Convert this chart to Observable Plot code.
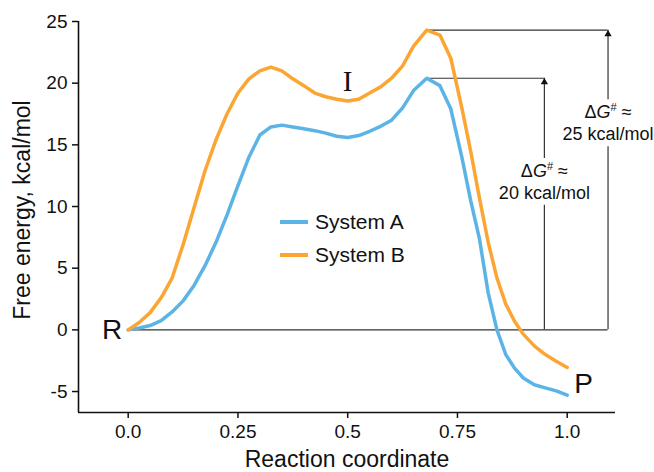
<!DOCTYPE html>
<html><head><meta charset="utf-8">
<script src="https://cdn.jsdelivr.net/npm/d3@7"></script>
<script src="https://cdn.jsdelivr.net/npm/@observablehq/plot@0.6"></script>
<style>
body{margin:0;background:#fff;}
#chart{position:relative;width:654px;height:472px;font-family:"Liberation Sans",Arial,sans-serif;}
.legend{position:absolute;left:280px;top:205px;font-size:21px;color:#111;}
.item{display:flex;align-items:center;height:33.3px;}
.sw{width:28px;height:4px;margin-right:7px;}
</style>
</head><body><div id="chart"></div>
<script>
// Reaction coordinate samples
const coord = [0, 0.025, 0.05, 0.075, 0.1, 0.125, 0.15, 0.175, 0.2, 0.225, 0.25, 0.275, 0.3, 0.325, 0.35, 0.375, 0.4, 0.425, 0.45, 0.475, 0.5, 0.525, 0.55, 0.575, 0.6, 0.625, 0.65, 0.68, 0.71, 0.735, 0.76, 0.78, 0.8, 0.82, 0.84, 0.86, 0.88, 0.9, 0.925, 0.95, 0.975, 1.0];
// Free energy, kcal/mol
const systemA = [0, 0.15, 0.35, 0.75, 1.45, 2.35, 3.6, 5.2, 7.1, 9.3, 11.7, 14.0, 15.8, 16.45, 16.6, 16.45, 16.3, 16.15, 15.95, 15.7, 15.6, 15.75, 16.1, 16.5, 17.0, 18.0, 19.4, 20.4, 19.8, 17.9, 14.0, 10.5, 7.4, 3.0, 0.0, -2.0, -3.1, -3.9, -4.45, -4.7, -4.95, -5.3];
const systemB = [0, 0.6, 1.4, 2.6, 4.2, 6.9, 9.9, 12.9, 15.4, 17.5, 19.2, 20.35, 21.0, 21.3, 21.0, 20.35, 19.8, 19.2, 18.9, 18.7, 18.55, 18.7, 19.2, 19.7, 20.4, 21.4, 23.0, 24.3, 23.9, 22.0, 18.0, 14.5, 10.7, 7.1, 4.2, 2.1, 0.7, -0.35, -1.3, -2.0, -2.55, -3.05];
const seriesNames = ["System A", "System B"];
const seriesColors = ["#5bb4e5", "#fba533"];
const xTicks = [0, 0.25, 0.5, 0.75, 1];
const xTickLabels = ["0.0", "0.25", "0.5", "0.75", "1.0"];
const yTicks = [-5, 0, 5, 10, 15, 20, 25];
const yTickLabels = ["-5", "0", "5", "10", "15", "20", "25"];
const pointLabels = ["R", "I", "P"];
// Barrier annotations (System A, System B)
const barrierX = [0.948, 1.093];
const barrierText = ["20 kcal/mol", "25 kcal/mol"];
const barrierLabelY = [12.0, 16.75];
const labelGap = 1.9;

const xDomain = [-0.1132, 1.110];
const yDomain = [-6.7, 25];

const rows = coord.map((x, i) => ({x, a: systemA[i], b: systemB[i]}));
const series = [systemA, systemB];
const peakIdx = series.map(s => d3.maxIndex(s));
const barriers = [0, 1].map(k => ({
  x: barrierX[k], top: series[k][peakIdx[k]], peakX: coord[peakIdx[k]],
  labelY: barrierLabelY[k], text: barrierText[k]
}));
const last = coord.length - 1;
const mid = d3.minIndex(systemB.slice(13, 27)) + 13;

const ink = "#333";
const plot = Plot.plot({
  width: 654, height: 472,
  marginLeft: 78, marginRight: 39, marginTop: 21, marginBottom: 60,
  style: {fontFamily: '"Liberation Sans", Arial, sans-serif', background: "white", color: "#111"},
  x: {domain: xDomain},
  y: {domain: yDomain},
  marks: [
    Plot.axisY({ticks: yTicks, tickFormat: d => yTickLabels[yTicks.indexOf(d)], tickSize: 6, tickPadding: 5, fontSize: 19, label: null, strokeWidth: 1.5, stroke: "#111"}),
    Plot.axisX({ticks: xTicks, tickFormat: d => xTickLabels[xTicks.indexOf(d)], tickSize: 6, tickPadding: 6, fontSize: 19, label: null, strokeWidth: 1.5, stroke: "#111"}),
    Plot.ruleX([xDomain[0]], {stroke: "#111", strokeWidth: 1.6}),
    Plot.ruleY([yDomain[0]], {stroke: "#111", strokeWidth: 1.6}),
    // baseline at R
    Plot.ruleY([0], {x1: coord[0], x2: barrierX[1], stroke: ink, strokeWidth: 1.2}),
    // horizontal lines from peaks
    Plot.ruleY(barriers, {y: "top", x1: "peakX", x2: "x", stroke: ink, strokeWidth: 1.2}),
    // vertical arrows, split around labels
    Plot.ruleX(barriers, {x: "x", y1: 0, y2: d => d.labelY - labelGap, stroke: ink, strokeWidth: 1.2}),
    Plot.ruleX(barriers, {x: "x", y1: d => d.labelY + labelGap, y2: "top", stroke: ink, strokeWidth: 1.2}),
    Plot.dot(barriers, {x: "x", y: "top", symbol: "triangle", r: 2.7, fill: "#111", stroke: "none", dy: 4}),
    Plot.text(barriers, {x: "x", y: "labelY", text: () => "ΔG# ≈", dy: -11, fontSize: 18, fill: "#111"}),
    Plot.text(barriers, {x: "x", y: "labelY", text: "text", dy: 11, fontSize: 18, fill: "#111"}),
    // curves
    Plot.line(rows, {x: "x", y: "a", stroke: seriesColors[0], strokeWidth: 3.5, strokeLinejoin: "round"}),
    Plot.line(rows, {x: "x", y: "b", stroke: seriesColors[1], strokeWidth: 3.5, strokeLinejoin: "round"}),
    // state labels
    Plot.text([pointLabels[0]], {x: coord[0], y: 0, text: d => d, textAnchor: "end", dx: -6, fontSize: 28, fill: "#111"}),
    Plot.text([pointLabels[1]], {x: coord[mid], y: systemB[mid], text: d => d, dy: -19, fontSize: 29, fontFamily: '"Liberation Serif", "Times New Roman", serif', fill: "#111"}),
    Plot.text([pointLabels[2]], {x: coord[last], y: (systemA[last] + systemB[last]) / 2, text: d => d, textAnchor: "start", dx: 7, dy: 2.5, fontSize: 28, fill: "#111"}),
    // axis titles
    Plot.text(["Reaction coordinate"], {frameAnchor: "bottom", text: d => d, dy: 54, fontSize: 23, fill: "#111"}),
    Plot.text(["Free energy, kcal/mol"], {frameAnchor: "left", textAnchor: "middle", text: d => d, rotate: -90, dx: -56, dy: -7, fontSize: 23, fill: "#111"})
  ]
});

// italic G and superscript # in the barrier labels
d3.select(plot).selectAll("text").filter(function() { return this.textContent === "ΔG# ≈"; })
  .each(function() {
    const t = d3.select(this);
    t.text("");
    t.append("tspan").text("Δ");
    t.append("tspan").attr("font-style", "italic").text("G");
    t.append("tspan").attr("font-size", 11).attr("dy", -7).text("#");
    t.append("tspan").attr("dy", 7).text(" ≈");
  });

const chart = document.getElementById("chart");
chart.appendChild(plot);
const legend = document.createElement("div");
legend.className = "legend";
seriesNames.forEach((name, i) => {
  const item = document.createElement("div");
  item.className = "item";
  const sw = document.createElement("span");
  sw.className = "sw";
  sw.style.background = seriesColors[i];
  const lab = document.createElement("span");
  lab.textContent = name;
  item.appendChild(sw); item.appendChild(lab);
  legend.appendChild(item);
});
chart.appendChild(legend);
</script>
</body></html>
